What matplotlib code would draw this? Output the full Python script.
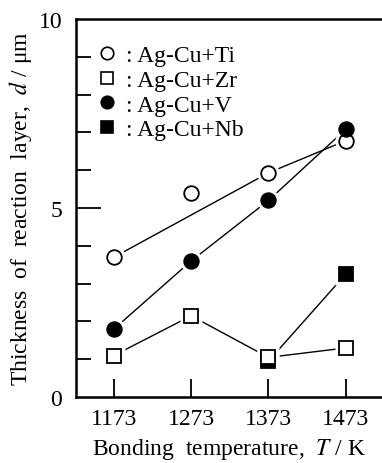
import matplotlib.pyplot as plt
from matplotlib.lines import Line2D

# Data
temps = [1173, 1273, 1373, 1473]
ti = [3.7, 5.4, 5.93, 6.78]
zr = [1.1, 2.15, 1.05, 1.3]
v = [1.8, 3.6, 5.2, 7.08]
nb_temps = [1373, 1473]
nb = [0.95, 3.25]
# Ti line is drawn through 1173, 1373, 1473 only
ti_line_idx = [0, 2, 3]

plt.rcParams['font.family'] = ['Liberation Serif', 'DejaVu Serif']
plt.rcParams['mathtext.fontset'] = 'stix'

fig = plt.figure(figsize=(3.82, 4.64), dpi=100)
ax = fig.add_axes([0.199, 0.142, 0.801, 0.815])

lw = 1.0
ms = 10.5
halo = 16
fs = 17

# connecting lines
ax.plot([temps[i] for i in ti_line_idx], [ti[i] for i in ti_line_idx],
        color='black', lw=lw, zorder=1)
ax.plot(temps, zr, color='black', lw=lw, zorder=1)
ax.plot(temps, v, color='black', lw=lw, zorder=1)
ax.plot(nb_temps, nb, color='black', lw=lw, zorder=1)

# white halos so lines stop short of the markers
for x, y, m in [(temps, ti, 'o'), (temps, zr, 's'), (temps, v, 'o'), (nb_temps, nb, 's')]:
    ax.plot(x, y, ls='none', marker=m, ms=halo, mfc='white', mec='none', zorder=2)

# markers
ax.plot(nb_temps, nb, ls='none', marker='s', ms=ms, mfc='black', mec='black',
        mew=1.3, zorder=3)
ax.plot(temps, zr, ls='none', marker='s', ms=ms, mfc='white', mec='black',
        mew=1.3, zorder=4)
ax.plot(temps, ti, ls='none', marker='o', ms=ms, mfc='white', mec='black',
        mew=1.3, zorder=5)
ax.plot(temps, v, ls='none', marker='o', ms=ms, mfc='black', mec='black',
        mew=1.3, zorder=6)

ax.set_xlim(1124, 1520)
ax.set_ylim(0, 10)

ax.set_xticks(temps)
ax.set_xticklabels([str(t) for t in temps])
ax.set_yticks([0, 5, 10])
ax.set_yticks([1, 2, 3, 4, 6, 7, 8, 9], minor=True)
ax.tick_params(axis='both', which='major', direction='in', labelsize=fs,
               width=1.3, length=13)
ax.tick_params(axis='y', which='major', length=18, pad=10)
ax.tick_params(axis='y', which='minor', direction='in', width=1.3, length=11)
ax.tick_params(axis='x', pad=8)
ax.tick_params(axis='x', which='minor', bottom=False)
# hide the ticks at 0 and 10 (they coincide with the spines)
for t in [ax.yaxis.get_major_ticks()[0], ax.yaxis.get_major_ticks()[2]]:
    t.tick1line.set_visible(False)

ax.spines['right'].set_visible(False)
for s in ['left', 'top', 'bottom']:
    ax.spines[s].set_linewidth(1.8)

ax.set_xlabel('Bonding  temperature,  $T$ / K', fontsize=fs, labelpad=5)
ax.set_ylabel('Thickness  of  reaction  layer,  $d$ / μm', fontsize=fs, labelpad=3)

# legend
labels = [': Ag-Cu+Ti', ': Ag-Cu+Zr', ': Ag-Cu+V', ': Ag-Cu+Nb']
styles = [('o', 'white'), ('s', 'white'), ('o', 'black'), ('s', 'black')]
handles = [Line2D([], [], ls='none', marker=m, ms=9, mfc=fc, mec='black', mew=1.2)
           for m, fc in styles]
ax.legend(handles, labels, loc='upper left', frameon=False, fontsize=fs,
          handlelength=0.6, handletextpad=0.5, labelspacing=0.13,
          borderaxespad=0.3, bbox_to_anchor=(0.025, 0.975))

fig.savefig('out.png', dpi=100)
